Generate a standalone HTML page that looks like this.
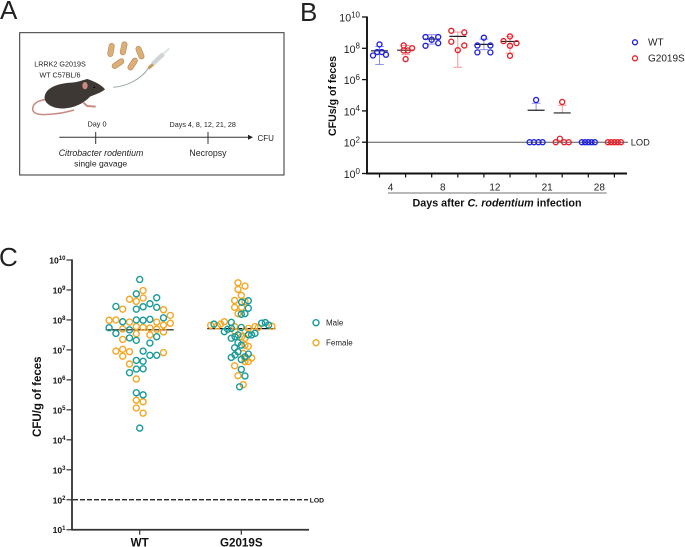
<!DOCTYPE html>
<html>
<head>
<meta charset="utf-8">
<style>
html,body{margin:0;padding:0;background:#fff;width:685px;height:547px;overflow:hidden}
svg{display:block;font-family:"Liberation Sans",sans-serif}
</style>
</head>
<body>
<svg id="fig" xmlns="http://www.w3.org/2000/svg" width="685" height="547" viewBox="0 0 685 547">
  <text x="0" y="19" font-size="26" fill="#222">A</text>
  <text x="300" y="21" font-size="26" fill="#222">B</text>
  <text x="-1" y="266" font-size="26" fill="#222">C</text>

  <g id="panel-a">
    <rect x="19.7" y="32.7" width="264.3" height="142.3" fill="#fff" stroke="#333" stroke-width="1"/>
    <text x="60" y="66.5" font-size="7.2" text-anchor="middle" fill="#222">LRRK2 G2019S</text>
    <text x="60" y="77.5" font-size="7.2" text-anchor="middle" fill="#222">WT C57BL/6</text>
    <g transform="scale(0.33333)">
      <path d="M150 298 C125 298 100 305 98 325 C97 347 130 345 160 342 C185 340 205 335 222 330" fill="none" stroke="#c98a84" stroke-width="4.5"/>
      <path d="M150 310 L165 320 L195 322" fill="none" stroke="#c98a84" stroke-width="6"/>
      <path d="M250 308 L262 318 L287 320" fill="none" stroke="#c98a84" stroke-width="6"/>
      <path d="M315 268 C300 280 285 283 270 290 C250 312 215 328 180 325 C150 323 128 305 135 285 C142 262 175 250 215 248 C235 246 250 240 262 237 C285 245 305 255 315 268 Z" fill="#3e3835"/>
      <ellipse cx="255" cy="257" rx="8" ry="11" fill="#c98a84"/>
      <circle cx="283" cy="262" r="2.5" fill="#000"/>
    </g>
    <g transform="scale(0.33333)" fill="#dcae78" stroke="#b98d5c" stroke-width="2">
      <rect x="325" y="130" width="16" height="40" rx="8" transform="rotate(10 333 150)"/>
      <rect x="363" y="125" width="16" height="40" rx="8" transform="rotate(12 371 145)"/>
      <rect x="412" y="138" width="16" height="40" rx="8" transform="rotate(-22 420 158)"/>
      <rect x="346" y="171" width="16" height="40" rx="8" transform="rotate(55 354 191)"/>
      <rect x="390" y="172" width="16" height="40" rx="8" transform="rotate(33 398 192)"/>
    </g>
    <g transform="scale(0.33333)">
      <path d="M340 262 C385 258 425 235 445 205" fill="none" stroke="#9aa8a8" stroke-width="3"/>
      <line x1="445" y1="205" x2="462" y2="190" stroke="#c89a5c" stroke-width="9"/>
      <line x1="458" y1="192" x2="490" y2="162" stroke="#cfd4d4" stroke-width="13"/>
      <line x1="490" y1="162" x2="508" y2="145" stroke="#dfe2e2" stroke-width="6"/>
    </g>
    <line x1="59.3" y1="137.3" x2="249" y2="137.3" stroke="#333" stroke-width="1"/>
    <polygon points="248,134.8 253,137.3 248,139.8" fill="#222"/>
    <line x1="95.7" y1="132" x2="95.7" y2="144" stroke="#333" stroke-width="1"/>
    <line x1="208" y1="132" x2="208" y2="144" stroke="#333" stroke-width="1"/>
    <text x="97" y="126.5" font-size="7.3" text-anchor="middle" fill="#222">Day 0</text>
    <text x="202.7" y="127" font-size="7.2" text-anchor="middle" fill="#222">Days 4, 8, 12, 21, 28</text>
    <text x="257.5" y="140.8" font-size="8" fill="#222">CFU</text>
    <text x="101" y="156" font-size="8.8" font-style="italic" text-anchor="middle" fill="#222">Citrobacter rodentium</text>
    <text x="100.7" y="166.5" font-size="8.6" text-anchor="middle" fill="#222">single gavage</text>
    <text x="208" y="156" font-size="8.8" text-anchor="middle" fill="#222">Necropsy</text>
  </g>

  <g id="panel-b"></g>
  <g id="panel-c"></g>

  <text transform="translate(336,96) rotate(-90)" font-size="10.6" font-weight="bold" text-anchor="middle" fill="#111">CFUs/g of feces</text>
  <line x1="388" y1="193" x2="606.7" y2="193" stroke="#444" stroke-width="0.8"/>
  <text x="497" y="206.5" font-size="10.75" font-weight="bold" text-anchor="middle" fill="#111">Days after <tspan font-style="italic">C. rodentium</tspan> infection</text>
  <text x="630.7" y="145.5" font-size="9.3" fill="#222">LOD</text>
  <circle cx="635" cy="42.3" r="2.5" fill="none" stroke="#2020e0" stroke-width="1.3"/>
  <text x="648" y="45.5" font-size="10" fill="#222">WT</text>
  <circle cx="635" cy="58.3" r="2.5" fill="none" stroke="#e8202a" stroke-width="1.3"/>
  <text x="648" y="61.5" font-size="10" fill="#222">G2019S</text>

  <text transform="translate(41,396.7) rotate(-90)" font-size="11.5" font-weight="bold" text-anchor="middle" fill="#111">CFU/g of feces</text>
  <text x="309.7" y="502.3" font-size="6.8" font-weight="bold" fill="#111">LOD</text>
  <circle cx="316" cy="322.7" r="3" fill="none" stroke="#1a9a9a" stroke-width="1.4"/>
  <text x="326" y="325.7" font-size="8" fill="#222">Male</text>
  <circle cx="316" cy="342.7" r="3" fill="none" stroke="#f5a623" stroke-width="1.4"/>
  <text x="326" y="345.7" font-size="8" fill="#222">Female</text>
</svg>

<script>
/* Panel B data: log10 CFU/g per day; slot = swarm column of each point */
const bDays = ['4', '8', '12', '21', '28'];
const bTickExponents = [0, 2, 4, 6, 8, 10];
const bLod = 2;
const bWtValues = [
  [8.25, 7.76, 7.76, 7.54, 7.59],
  [8.72, 8.72, 8.55, 8.16, 8.33],
  [8.68, 8.18, 8.18, 7.74, 7.74],
  [4.70, 2, 2, 2, 2],
  [2, 2, 2, 2, 2]
];
const bWtSlots = [
  [0, -0.35, 0.35, -1, 1],
  [-0.95, 1, 0, -0.95, 1],
  [0, -1, 1, -1, 1],
  [0, -1, -0.33, 0.36, 1],
  [-1, -0.5, 0, 0.5, 1]
];
const bWtMeans = [7.84, 8.59, 8.25, 4.04, 2];
const bWtUpper = [8.12, 8.87, 8.59, 4.49, null];
const bWtLower = [6.97, 8.27, 7.91, null, null];
const bG2019sValues = [
  [8.18, 8.01, 7.86, 7.86, 7.31],
  [9.12, 9.02, 8.42, 8.18, 7.88],
  [8.76, 8.46, 8.33, 8.16, 7.52],
  [4.57, 2.22, 2, 2, 2],
  [2, 2, 2, 2, 2]
];
const bG2019sSlots = [
  [-0.3, 1, -0.3, 0.35, 0],
  [-1, 1, -1, 1, 0],
  [0, -1, 1, 0, 0],
  [0, -0.36, -1, 0.3, 1],
  [-1, -0.5, 0, 0.5, 1]
];
const bG2019sMeans = [7.88, 8.76, 8.44, 3.87, 2];
const bG2019sUpper = [8.18, 9.04, 8.76, 4.36, null];
const bG2019sLower = [7.59, 6.79, 7.69, null, null];

/* Panel C data: log10 CFU/g per animal */
const cGroups = ['WT', 'G2019S'];
const cTickExponents = [1, 2, 3, 4, 5, 6, 7, 8, 9, 10];
const cLod = 2;
const cMeans = [7.67, 7.71];
const cWtMaleValues = [9.35, 8.87, 8.74, 8.45, 8.54, 8.44, 8.36, 8.42, 8.07, 8.00, 7.99, 8.02, 7.94, 7.74, 7.67, 7.55, 7.40, 7.32, 7.44, 7.23, 6.96, 6.82, 6.82, 6.65, 6.62, 6.36, 6.37, 6.24, 5.57, 5.50, 4.39];
const cWtMaleSlots = [0, -0.5, 2.5, -3.5, 1.5, 0.5, -0.5, 2.5, 3.5, -0.5, 0.5, 1.5, -2.5, -4.5, -1.5, -3.5, -1.5, -0.5, 2.5, 1.5, 0.5, 1.5, 2.5, -0.5, 0.5, -0.5, 0.5, -1.5, -0.5, 0.5, 0];
const cWtFemaleValues = [8.98, 8.69, 8.62, 8.73, 8.36, 8.34, 8.15, 7.99, 8.00, 7.93, 7.89, 7.93, 7.83, 7.78, 7.75, 7.73, 7.70, 7.69, 7.60, 7.54, 7.50, 7.35, 6.96, 7.02, 6.94, 6.79, 6.91, 6.53, 6.03, 5.32, 5.27, 5.06, 4.89];
const cWtFemaleSlots = [0.5, -1.5, -0.5, 0.5, -2.5, 3.5, 4.5, -4.5, -3.5, -1.5, 4.5, 2.5, 3.5, -0.5, 0.5, 1.5, -2.5, 2.5, 3.5, -0.5, 1.5, -2.5, -3.5, -2.5, -1.5, -2.5, 3.5, -1.5, -0.5, -0.5, 0.5, -0.5, 0.5];
const cMutMaleValues = [8.64, 8.59, 8.39, 8.19, 8.21, 7.86, 7.92, 7.89, 7.91, 7.83, 7.61, 7.72, 7.75, 7.69, 7.44, 7.39, 7.50, 7.50, 7.50, 7.55, 7.24, 7.16, 7.07, 6.94, 6.86, 6.75, 6.83, 6.68, 6.77, 6.35, 6.13, 5.77];
const cMutMaleSlots = [1.03, 0.05, 1.03, 0, 0.54, -4.02, -1.47, 2.99, 3.53, 4.02, -2.5, -1.47, 0, -2.01, -0.93, -1.47, -0.49, 1.03, 1.52, 2.01, -0.49, 0, -0.98, -0.49, 1.03, -1.47, -0.93, 0, 0.54, 0, 0.54, -0.25];
const cMutFemaleValues = [9.24, 9.13, 9.02, 8.82, 8.65, 8.61, 8.42, 8.42, 8.21, 7.82, 7.80, 7.86, 7.94, 7.78, 7.72, 7.78, 7.75, 7.79, 7.64, 7.44, 7.39, 7.12, 7.16, 6.88, 6.72, 6.61, 6.61, 6.73, 6.47, 6.14, 5.84, 7.61];
const cMutFemaleSlots = [-0.49, 0.54, -0.49, 0, -0.98, 0.54, -0.98, 0.05, -0.49, -4.5, -3.53, -3.04, -2.5, -0.98, 1.03, 2.01, 2.5, 4.51, 0.54, 0.05, 0.54, 1.03, 0.54, 0.29, 0.54, 1.03, 0.54, 1.52, -0.98, -0.49, 0.29, -0.93];

const NS = 'http://www.w3.org/2000/svg';
function make(parent, tag, props) {
  const el = document.createElementNS(NS, tag);
  for (const k in props) el.setAttribute(k, props[k]);
  parent.appendChild(el);
  return el;
}

/* axis functions */
const bY = v => 173.5 - v * 15.65;
const bSeriesX = i => 379.5 + i * 26.1;
const cY = v => 260 + (10 - v) * 29.97;
const cX = i => 139.7 + i * 101.6;

function powerLabel(parent, x, y, exp, size, supSize, weight, fill) {
  const t = make(parent, 'text', {x: x, y: y, 'font-size': size, 'font-weight': weight, 'text-anchor': 'end', fill: fill});
  
  
  const a = make(t, 'tspan', {});
  a.textContent = '10';
  const b = make(t, 'tspan', {'font-size': supSize, dy: -size * 0.4});
  b.textContent = String(exp);
  return t;
}

/* ---------- Panel B ---------- */
const pb = document.getElementById('panel-b');

const bLodLine = make(pb, 'line', {x1: 367, x2: 628, y1: bY(bLod), y2: bY(bLod), stroke: '#555', 'stroke-width': 1});



const bYAxis = make(pb, 'line', {x1: 367, x2: 367, y1: bY(10) - 0.5, y2: bY(0) + 1, stroke: '#111', 'stroke-width': 1.9});



const bXAxis = make(pb, 'line', {x1: 366, x2: 627, y1: bY(0), y2: bY(0), stroke: '#111', 'stroke-width': 1.9});



bTickExponents.forEach(e => {
  const tick = make(pb, 'line', {x1: 362, x2: 367, y1: bY(e), y2: bY(e), stroke: '#111', 'stroke-width': 1.3});
  
  
  powerLabel(pb, 360, bY(e) + 4.5, e, 10.6, 8, 'normal', '#222');
});

function drawBSeries(values, slots, means, upper, lower, color, errColor, offset, seriesName) {
  values.forEach((vals, d) => {
    const cx = bSeriesX(d * 2 + offset);
    const tick = make(pb, 'line', {x1: cx, x2: cx, y1: bY(0), y2: bY(0) + 4, stroke: '#111', 'stroke-width': 1.2});
    
    

    if (upper[d] !== null || lower[d] !== null) {
      const hi = upper[d] !== null ? upper[d] : means[d];
      const lo = lower[d] !== null ? lower[d] : means[d];
      const stem = make(pb, 'line', {x1: cx, x2: cx, y1: bY(hi), y2: bY(lo), stroke: errColor, 'stroke-width': 0.9});
      
      
      [upper[d], lower[d]].forEach(c => {
        if (c === null) return;
        const cap = make(pb, 'line', {x1: cx - 4.3, x2: cx + 4.3, y1: bY(c), y2: bY(c), stroke: errColor, 'stroke-width': 0.9});
        
        
      });
    }
    if (d < 4) {
      const mean = make(pb, 'line', {x1: cx - 8.5, x2: cx + 8.5, y1: bY(means[d]), y2: bY(means[d]), stroke: '#222', 'stroke-width': 1.2});
      
      
    }
    vals.forEach((v, i) => {
      const c = make(pb, 'circle', {cx: cx + slots[d][i] * 6.5, cy: bY(v), r: 2.5, fill: 'none', stroke: color, 'stroke-width': 1.35});
      
      
    });
  });
}
drawBSeries(bWtValues, bWtSlots, bWtMeans, bWtUpper, bWtLower, '#2020e0', '#7f7fee', 0, 'wt');
drawBSeries(bG2019sValues, bG2019sSlots, bG2019sMeans, bG2019sUpper, bG2019sLower, '#e8202a', '#f08a8e', 1, 'g2019s');

bDays.forEach((day, d) => {
  const t = make(pb, 'text', {x: bSeriesX(d * 2 + 0.5) - 2, y: 190.5, 'font-size': 10, 'text-anchor': 'middle', fill: '#222'});
  
  
  t.textContent = day;
});

/* ---------- Panel C ---------- */
const pc = document.getElementById('panel-c');

const cLodLine = make(pc, 'line', {x1: 73, x2: 308, y1: cY(cLod), y2: cY(cLod), stroke: '#111', 'stroke-width': 1.2, 'stroke-dasharray': '5 2'});



const cYAxis = make(pc, 'line', {x1: 72, x2: 72, y1: cY(10) - 0.6, y2: cY(1) + 0.6, stroke: '#333', 'stroke-width': 1.8});



const cXAxis = make(pc, 'line', {x1: 71.5, x2: 309, y1: cY(1), y2: cY(1), stroke: '#333', 'stroke-width': 1.8});



cTickExponents.forEach(e => {
  const tick = make(pc, 'line', {x1: 66.5, x2: 72, y1: cY(e), y2: cY(e), stroke: '#333', 'stroke-width': 1.2});
  
  
  powerLabel(pc, 65.5, cY(e) + 3.5, e, 8.6, 6, 'bold', '#111');
});

cGroups.forEach((g, i) => {
  const tick = make(pc, 'line', {x1: cX(i), x2: cX(i), y1: cY(1), y2: cY(1) + 5, stroke: '#333', 'stroke-width': 1.2});
  
  
  const t = make(pc, 'text', {x: cX(i), y: 546.6, 'font-size': 11.6, 'font-weight': 'bold', 'text-anchor': 'middle', fill: '#111'});
  
  
  t.textContent = g;
  const mean = make(pc, 'line', {x1: cX(i) - 34, x2: cX(i) + 34, y1: cY(cMeans[i]), y2: cY(cMeans[i]), stroke: '#111', 'stroke-width': 1.2});
  
  
});

function drawCPoints(values, slots, groupIndex, color, pointName) {
  values.forEach((v, i) => {
    const c = make(pc, 'circle', {cx: cX(groupIndex) + slots[i] * 6.8, cy: cY(v), r: 3, fill: 'none', stroke: color, 'stroke-width': 1.4});
    
    
  });
}
drawCPoints(cWtFemaleValues, cWtFemaleSlots, 0, '#f5a623', 'wt-female-point');
drawCPoints(cWtMaleValues, cWtMaleSlots, 0, '#1a9a9a', 'wt-male-point');
drawCPoints(cMutFemaleValues, cMutFemaleSlots, 1, '#f5a623', 'g2019s-female-point');
drawCPoints(cMutMaleValues, cMutMaleSlots, 1, '#1a9a9a', 'g2019s-male-point');
</script>
</body>
</html>
